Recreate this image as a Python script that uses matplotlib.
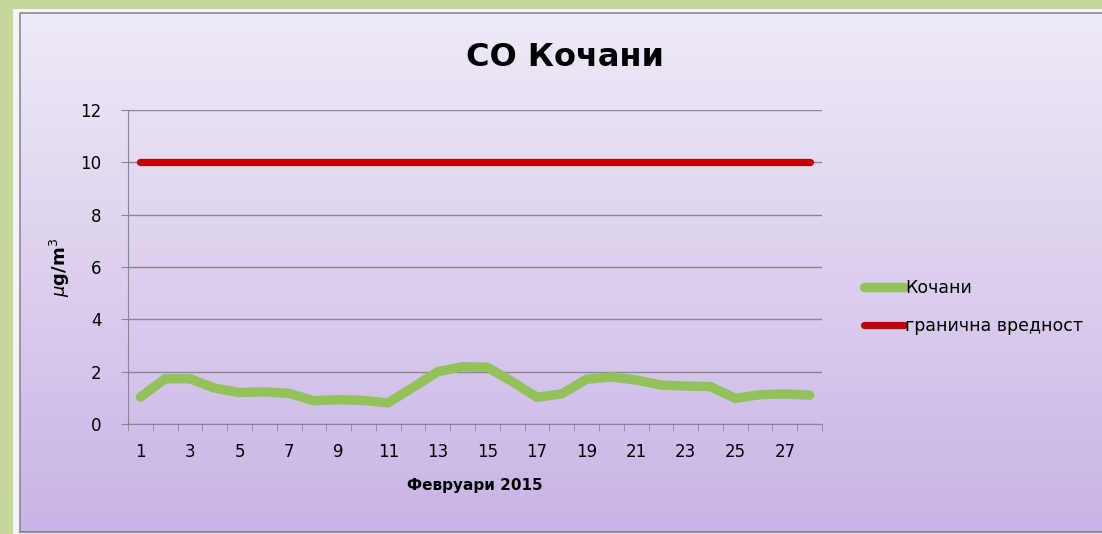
import numpy as np
import matplotlib
matplotlib.use("Agg")
import matplotlib.pyplot as plt
from matplotlib.patches import Rectangle
from matplotlib.colors import LinearSegmentedColormap

days = list(range(1, 29))
kochani = [1.03, 1.73, 1.73, 1.37, 1.2, 1.23, 1.17, 0.89, 0.93, 0.9, 0.81, 1.4,
           2.0, 2.19, 2.17, 1.62, 1.02, 1.15, 1.71, 1.8, 1.68, 1.49, 1.45, 1.43,
           0.98, 1.12, 1.15, 1.1]
limit = [10] * 28
title = "CO Кочани"
xlabel = "Февруари 2015"
ylabel = r"$\mu$g/m$^3$"
series_names = ["Кочани", "гранична вредност"]
xtick_labels = [str(d) for d in range(1, 29, 2)]
yticks = [0, 2, 4, 6, 8, 10, 12]

W, H = 1102, 534
fig = plt.figure(figsize=(W / 100, H / 100), dpi=100)
fig.patch.set_facecolor("#C5D79B")

# background panel with gradient
bg = fig.add_axes([0, 0, 1, 1])
bg.set_xlim(0, W)
bg.set_ylim(H, 0)
bg.axis("off")
bg.add_patch(Rectangle((13, 9), W, H - 9, facecolor="#F4F4F4", edgecolor="none"))
cmap = LinearSegmentedColormap.from_list("g", ["#EFEAF8", "#DCD0EE", "#C8B4E6"])
grad = np.linspace(0, 1, 256).reshape(-1, 1)
bg.imshow(grad, cmap=cmap, extent=(20, W + 5, 532, 13), aspect="auto", zorder=1)
bg.plot([20, 20, W + 5], [532, 13, 13], color="#8C8898", lw=1.2, zorder=2)
bg.plot([20, W + 5], [532, 532], color="#8C8898", lw=1.5, zorder=2)

ax = fig.add_axes([128 / W, 110 / H, (822 - 128) / W, (424 - 110) / H])
ax.patch.set_alpha(0)
ax.plot(days, kochani, color="#93C25A", lw=6.8, solid_capstyle="round",
        solid_joinstyle="round", label=series_names[0], zorder=3)
ax.plot(days, limit, color="#C00000", lw=5.2, solid_capstyle="round",
        label=series_names[1], zorder=3)
ax.set_xlim(0.5, 28.5)
ax.set_ylim(0, 12)
ax.set_yticks(yticks)
ax.set_yticklabels([str(v) for v in yticks], fontsize=12)
ax.yaxis.grid(True, color="#8A8696", lw=1)
ax.set_axisbelow(True)
ax.set_xticks(list(range(1, 29, 2)))
ax.set_xticklabels(xtick_labels, fontsize=12)
ax.set_xticks(np.arange(0.5, 29, 1), minor=True)
ax.tick_params(axis="x", which="major", length=0, pad=14)
ax.tick_params(axis="x", which="minor", length=5, color="#8A8696")
ax.tick_params(axis="y", length=5, color="#8A8696", pad=14)
for s in ["top", "right"]:
    ax.spines[s].set_visible(False)
for s in ["left", "bottom"]:
    ax.spines[s].set_color("#8A8696")

ax.set_xlabel(xlabel, fontsize=11, fontweight="bold", labelpad=12)
ax.set_ylabel(ylabel, fontsize=13, fontweight="bold", labelpad=6)

fig.text(565 / W, 1 - 58 / H, title, fontsize=23, fontweight="bold",
         ha="center", va="center")

leg = fig.legend(loc="upper left", bbox_to_anchor=(848 / W, 1 - 263 / H),
                 frameon=False, fontsize=12.5, handlelength=2.3,
                 handletextpad=0.1, labelspacing=1.2)

fig.savefig("out.png", dpi=100)
